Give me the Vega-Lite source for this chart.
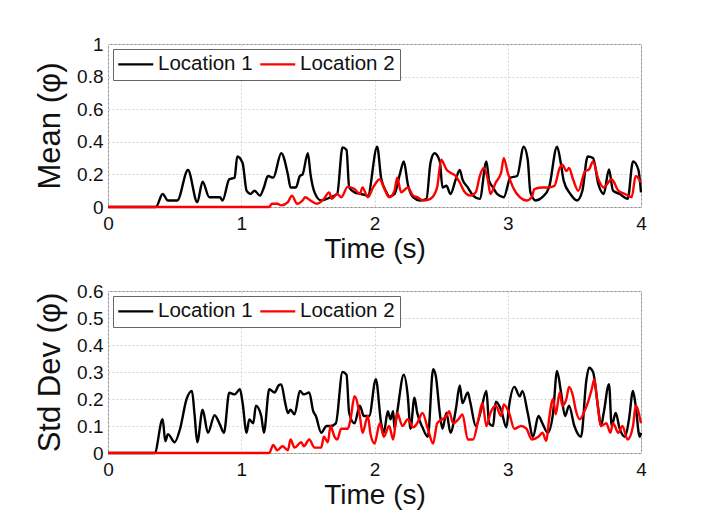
{
  "$schema": "https://vega.github.io/schema/vega-lite/v6.json",
  "background": "white",
  "padding": {"left": 34, "top": 34, "right": 5, "bottom": 5},
  "spacing": 17,
  "config": {
    "font": "Liberation Sans",
    "view": {"stroke": "#8c8c8c", "strokeWidth": 1},
    "axis": {
      "labelFont": "Liberation Sans", "labelFontSize": 19, "labelColor": "#111",
      "titleFont": "Liberation Sans", "titleFontSize": 28, "titleFontWeight": "normal", "titleColor": "#111",
      "grid": true, "gridColor": "#d4d4d4", "gridDash": [2, 2], "gridWidth": 1,
      "domain": false, "ticks": false, "labelPadding": 5,
      "labelOverlap": false, "labelFlush": false, "labelBound": false
    },
    "legend": {
      "orient": "top-left", "offset": 5, "direction": "horizontal", "title": null,
      "symbolType": "M-3,0H3", "symbolSize": 136, "symbolStrokeWidth": 2.4, "symbolOffset": 7.5,
      "labelFont": "Liberation Sans", "labelFontSize": 20.5, "labelColor": "#111", "labelOffset": 12,
      "columnPadding": 2, "padding": 5, "strokeColor": "#666", "fillColor": "white", "cornerRadius": 0
    }
  },
  "datasets": {
    "mean": [
      {"t":0,"v":0,"loc":"Location 1"},{"t":0.36,"v":0,"loc":"Location 1"},{"t":0.41,"v":0.08,"loc":"Location 1"},{"t":0.45,"v":0.04,"loc":"Location 1"},{"t":0.52,"v":0.04,"loc":"Location 1"},{"t":0.6,"v":0.227,"loc":"Location 1"},{"t":0.67,"v":0.03,"loc":"Location 1"},{"t":0.71,"v":0.155,"loc":"Location 1"},{"t":0.76,"v":0.06,"loc":"Location 1"},{"t":0.84,"v":0.06,"loc":"Location 1"},{"t":0.86,"v":0.04,"loc":"Location 1"},{"t":0.91,"v":0.17,"loc":"Location 1"},{"t":0.95,"v":0.18,"loc":"Location 1"},{"t":0.97,"v":0.31,"loc":"Location 1"},{"t":1.01,"v":0.27,"loc":"Location 1"},{"t":1.04,"v":0.1,"loc":"Location 1"},{"t":1.07,"v":0.08,"loc":"Location 1"},{"t":1.1,"v":0.1,"loc":"Location 1"},{"t":1.14,"v":0.07,"loc":"Location 1"},{"t":1.17,"v":0.12,"loc":"Location 1"},{"t":1.2,"v":0.19,"loc":"Location 1"},{"t":1.24,"v":0.18,"loc":"Location 1"},{"t":1.3,"v":0.33,"loc":"Location 1"},{"t":1.35,"v":0.2,"loc":"Location 1"},{"t":1.37,"v":0.12,"loc":"Location 1"},{"t":1.41,"v":0.12,"loc":"Location 1"},{"t":1.44,"v":0.19,"loc":"Location 1"},{"t":1.46,"v":0.2,"loc":"Location 1"},{"t":1.5,"v":0.33,"loc":"Location 1"},{"t":1.52,"v":0.2,"loc":"Location 1"},{"t":1.55,"v":0.09,"loc":"Location 1"},{"t":1.6,"v":0.04,"loc":"Location 1"},{"t":1.67,"v":0.06,"loc":"Location 1"},{"t":1.72,"v":0.08,"loc":"Location 1"},{"t":1.76,"v":0.366,"loc":"Location 1"},{"t":1.79,"v":0.35,"loc":"Location 1"},{"t":1.81,"v":0.12,"loc":"Location 1"},{"t":1.85,"v":0.09,"loc":"Location 1"},{"t":1.9,"v":0.08,"loc":"Location 1"},{"t":1.95,"v":0.07,"loc":"Location 1"},{"t":2.02,"v":0.37,"loc":"Location 1"},{"t":2.05,"v":0.176,"loc":"Location 1"},{"t":2.09,"v":0.09,"loc":"Location 1"},{"t":2.11,"v":0.063,"loc":"Location 1"},{"t":2.15,"v":0.08,"loc":"Location 1"},{"t":2.19,"v":0.2,"loc":"Location 1"},{"t":2.22,"v":0.28,"loc":"Location 1"},{"t":2.25,"v":0.14,"loc":"Location 1"},{"t":2.29,"v":0.06,"loc":"Location 1"},{"t":2.34,"v":0.04,"loc":"Location 1"},{"t":2.39,"v":0.05,"loc":"Location 1"},{"t":2.42,"v":0.27,"loc":"Location 1"},{"t":2.45,"v":0.33,"loc":"Location 1"},{"t":2.49,"v":0.28,"loc":"Location 1"},{"t":2.51,"v":0.12,"loc":"Location 1"},{"t":2.54,"v":0.13,"loc":"Location 1"},{"t":2.57,"v":0.08,"loc":"Location 1"},{"t":2.61,"v":0.17,"loc":"Location 1"},{"t":2.64,"v":0.227,"loc":"Location 1"},{"t":2.66,"v":0.17,"loc":"Location 1"},{"t":2.7,"v":0.12,"loc":"Location 1"},{"t":2.74,"v":0.07,"loc":"Location 1"},{"t":2.79,"v":0.05,"loc":"Location 1"},{"t":2.84,"v":0.28,"loc":"Location 1"},{"t":2.86,"v":0.16,"loc":"Location 1"},{"t":2.89,"v":0.12,"loc":"Location 1"},{"t":2.92,"v":0.08,"loc":"Location 1"},{"t":2.97,"v":0.06,"loc":"Location 1"},{"t":3.02,"v":0.18,"loc":"Location 1"},{"t":3.07,"v":0.19,"loc":"Location 1"},{"t":3.12,"v":0.37,"loc":"Location 1"},{"t":3.15,"v":0.29,"loc":"Location 1"},{"t":3.17,"v":0.09,"loc":"Location 1"},{"t":3.21,"v":0.04,"loc":"Location 1"},{"t":3.26,"v":0.06,"loc":"Location 1"},{"t":3.31,"v":0.12,"loc":"Location 1"},{"t":3.37,"v":0.37,"loc":"Location 1"},{"t":3.4,"v":0.26,"loc":"Location 1"},{"t":3.42,"v":0.16,"loc":"Location 1"},{"t":3.47,"v":0.08,"loc":"Location 1"},{"t":3.52,"v":0.04,"loc":"Location 1"},{"t":3.56,"v":0.1,"loc":"Location 1"},{"t":3.6,"v":0.31,"loc":"Location 1"},{"t":3.64,"v":0.3,"loc":"Location 1"},{"t":3.68,"v":0.14,"loc":"Location 1"},{"t":3.72,"v":0.08,"loc":"Location 1"},{"t":3.76,"v":0.23,"loc":"Location 1"},{"t":3.79,"v":0.1,"loc":"Location 1"},{"t":3.84,"v":0.08,"loc":"Location 1"},{"t":3.9,"v":0.05,"loc":"Location 1"},{"t":3.94,"v":0.28,"loc":"Location 1"},{"t":3.98,"v":0.23,"loc":"Location 1"},{"t":4.0,"v":0.09,"loc":"Location 1"},
      {"t":0,"v":0,"loc":"Location 2"},{"t":1.21,"v":0,"loc":"Location 2"},{"t":1.23,"v":0.02,"loc":"Location 2"},{"t":1.27,"v":0.02,"loc":"Location 2"},{"t":1.3,"v":0.01,"loc":"Location 2"},{"t":1.35,"v":0.03,"loc":"Location 2"},{"t":1.38,"v":0.07,"loc":"Location 2"},{"t":1.42,"v":0.02,"loc":"Location 2"},{"t":1.46,"v":0.04,"loc":"Location 2"},{"t":1.48,"v":0.06,"loc":"Location 2"},{"t":1.52,"v":0.04,"loc":"Location 2"},{"t":1.57,"v":0.02,"loc":"Location 2"},{"t":1.62,"v":0.05,"loc":"Location 2"},{"t":1.66,"v":0.09,"loc":"Location 2"},{"t":1.68,"v":0.05,"loc":"Location 2"},{"t":1.72,"v":0.08,"loc":"Location 2"},{"t":1.75,"v":0.06,"loc":"Location 2"},{"t":1.8,"v":0.125,"loc":"Location 2"},{"t":1.85,"v":0.11,"loc":"Location 2"},{"t":1.89,"v":0.08,"loc":"Location 2"},{"t":1.91,"v":0.12,"loc":"Location 2"},{"t":1.95,"v":0.06,"loc":"Location 2"},{"t":1.99,"v":0.12,"loc":"Location 2"},{"t":2.04,"v":0.17,"loc":"Location 2"},{"t":2.07,"v":0.12,"loc":"Location 2"},{"t":2.11,"v":0.06,"loc":"Location 2"},{"t":2.15,"v":0.1,"loc":"Location 2"},{"t":2.17,"v":0.18,"loc":"Location 2"},{"t":2.2,"v":0.09,"loc":"Location 2"},{"t":2.25,"v":0.12,"loc":"Location 2"},{"t":2.29,"v":0.07,"loc":"Location 2"},{"t":2.32,"v":0.06,"loc":"Location 2"},{"t":2.37,"v":0.04,"loc":"Location 2"},{"t":2.42,"v":0.05,"loc":"Location 2"},{"t":2.47,"v":0.12,"loc":"Location 2"},{"t":2.5,"v":0.29,"loc":"Location 2"},{"t":2.54,"v":0.23,"loc":"Location 2"},{"t":2.57,"v":0.21,"loc":"Location 2"},{"t":2.61,"v":0.19,"loc":"Location 2"},{"t":2.64,"v":0.15,"loc":"Location 2"},{"t":2.67,"v":0.1,"loc":"Location 2"},{"t":2.72,"v":0.07,"loc":"Location 2"},{"t":2.76,"v":0.09,"loc":"Location 2"},{"t":2.79,"v":0.19,"loc":"Location 2"},{"t":2.82,"v":0.24,"loc":"Location 2"},{"t":2.85,"v":0.17,"loc":"Location 2"},{"t":2.87,"v":0.08,"loc":"Location 2"},{"t":2.91,"v":0.15,"loc":"Location 2"},{"t":2.95,"v":0.21,"loc":"Location 2"},{"t":2.97,"v":0.3,"loc":"Location 2"},{"t":3.0,"v":0.21,"loc":"Location 2"},{"t":3.04,"v":0.12,"loc":"Location 2"},{"t":3.09,"v":0.06,"loc":"Location 2"},{"t":3.14,"v":0.04,"loc":"Location 2"},{"t":3.18,"v":0.06,"loc":"Location 2"},{"t":3.2,"v":0.11,"loc":"Location 2"},{"t":3.25,"v":0.12,"loc":"Location 2"},{"t":3.3,"v":0.12,"loc":"Location 2"},{"t":3.35,"v":0.13,"loc":"Location 2"},{"t":3.39,"v":0.24,"loc":"Location 2"},{"t":3.41,"v":0.26,"loc":"Location 2"},{"t":3.44,"v":0.22,"loc":"Location 2"},{"t":3.46,"v":0.24,"loc":"Location 2"},{"t":3.49,"v":0.17,"loc":"Location 2"},{"t":3.53,"v":0.1,"loc":"Location 2"},{"t":3.58,"v":0.22,"loc":"Location 2"},{"t":3.61,"v":0.23,"loc":"Location 2"},{"t":3.64,"v":0.28,"loc":"Location 2"},{"t":3.68,"v":0.17,"loc":"Location 2"},{"t":3.72,"v":0.12,"loc":"Location 2"},{"t":3.78,"v":0.17,"loc":"Location 2"},{"t":3.83,"v":0.1,"loc":"Location 2"},{"t":3.88,"v":0.08,"loc":"Location 2"},{"t":3.93,"v":0.06,"loc":"Location 2"},{"t":3.96,"v":0.19,"loc":"Location 2"},{"t":4.0,"v":0.15,"loc":"Location 2"}
    ],
    "std": [
      {"t":0,"v":0,"loc":"Location 1"},{"t":0.35,"v":0,"loc":"Location 1"},{"t":0.41,"v":0.125,"loc":"Location 1"},{"t":0.43,"v":0.044,"loc":"Location 1"},{"t":0.45,"v":0.07,"loc":"Location 1"},{"t":0.5,"v":0.04,"loc":"Location 1"},{"t":0.54,"v":0.088,"loc":"Location 1"},{"t":0.59,"v":0.2,"loc":"Location 1"},{"t":0.63,"v":0.23,"loc":"Location 1"},{"t":0.65,"v":0.14,"loc":"Location 1"},{"t":0.67,"v":0.04,"loc":"Location 1"},{"t":0.71,"v":0.16,"loc":"Location 1"},{"t":0.75,"v":0.075,"loc":"Location 1"},{"t":0.8,"v":0.14,"loc":"Location 1"},{"t":0.84,"v":0.105,"loc":"Location 1"},{"t":0.87,"v":0.075,"loc":"Location 1"},{"t":0.91,"v":0.223,"loc":"Location 1"},{"t":0.95,"v":0.217,"loc":"Location 1"},{"t":0.99,"v":0.236,"loc":"Location 1"},{"t":1.01,"v":0.186,"loc":"Location 1"},{"t":1.04,"v":0.075,"loc":"Location 1"},{"t":1.06,"v":0.124,"loc":"Location 1"},{"t":1.09,"v":0.11,"loc":"Location 1"},{"t":1.11,"v":0.175,"loc":"Location 1"},{"t":1.15,"v":0.137,"loc":"Location 1"},{"t":1.17,"v":0.075,"loc":"Location 1"},{"t":1.21,"v":0.236,"loc":"Location 1"},{"t":1.25,"v":0.224,"loc":"Location 1"},{"t":1.28,"v":0.25,"loc":"Location 1"},{"t":1.3,"v":0.254,"loc":"Location 1"},{"t":1.33,"v":0.185,"loc":"Location 1"},{"t":1.35,"v":0.148,"loc":"Location 1"},{"t":1.37,"v":0.16,"loc":"Location 1"},{"t":1.4,"v":0.143,"loc":"Location 1"},{"t":1.44,"v":0.23,"loc":"Location 1"},{"t":1.47,"v":0.217,"loc":"Location 1"},{"t":1.51,"v":0.224,"loc":"Location 1"},{"t":1.54,"v":0.155,"loc":"Location 1"},{"t":1.56,"v":0.137,"loc":"Location 1"},{"t":1.6,"v":0.075,"loc":"Location 1"},{"t":1.64,"v":0.1,"loc":"Location 1"},{"t":1.67,"v":0.1,"loc":"Location 1"},{"t":1.71,"v":0.11,"loc":"Location 1"},{"t":1.76,"v":0.3,"loc":"Location 1"},{"t":1.79,"v":0.29,"loc":"Location 1"},{"t":1.81,"v":0.148,"loc":"Location 1"},{"t":1.85,"v":0.11,"loc":"Location 1"},{"t":1.89,"v":0.175,"loc":"Location 1"},{"t":1.92,"v":0.137,"loc":"Location 1"},{"t":1.96,"v":0.137,"loc":"Location 1"},{"t":2.01,"v":0.273,"loc":"Location 1"},{"t":2.05,"v":0.11,"loc":"Location 1"},{"t":2.07,"v":0.075,"loc":"Location 1"},{"t":2.1,"v":0.155,"loc":"Location 1"},{"t":2.12,"v":0.125,"loc":"Location 1"},{"t":2.14,"v":0.155,"loc":"Location 1"},{"t":2.15,"v":0.09,"loc":"Location 1"},{"t":2.17,"v":0.15,"loc":"Location 1"},{"t":2.22,"v":0.29,"loc":"Location 1"},{"t":2.25,"v":0.21,"loc":"Location 1"},{"t":2.27,"v":0.09,"loc":"Location 1"},{"t":2.3,"v":0.205,"loc":"Location 1"},{"t":2.32,"v":0.15,"loc":"Location 1"},{"t":2.36,"v":0.095,"loc":"Location 1"},{"t":2.4,"v":0.06,"loc":"Location 1"},{"t":2.44,"v":0.31,"loc":"Location 1"},{"t":2.46,"v":0.285,"loc":"Location 1"},{"t":2.49,"v":0.148,"loc":"Location 1"},{"t":2.51,"v":0.09,"loc":"Location 1"},{"t":2.54,"v":0.148,"loc":"Location 1"},{"t":2.57,"v":0.075,"loc":"Location 1"},{"t":2.61,"v":0.16,"loc":"Location 1"},{"t":2.64,"v":0.25,"loc":"Location 1"},{"t":2.66,"v":0.185,"loc":"Location 1"},{"t":2.7,"v":0.224,"loc":"Location 1"},{"t":2.72,"v":0.185,"loc":"Location 1"},{"t":2.76,"v":0.1,"loc":"Location 1"},{"t":2.8,"v":0.16,"loc":"Location 1"},{"t":2.84,"v":0.23,"loc":"Location 1"},{"t":2.86,"v":0.11,"loc":"Location 1"},{"t":2.89,"v":0.1,"loc":"Location 1"},{"t":2.91,"v":0.19,"loc":"Location 1"},{"t":2.95,"v":0.16,"loc":"Location 1"},{"t":2.99,"v":0.095,"loc":"Location 1"},{"t":3.01,"v":0.175,"loc":"Location 1"},{"t":3.05,"v":0.245,"loc":"Location 1"},{"t":3.09,"v":0.21,"loc":"Location 1"},{"t":3.11,"v":0.23,"loc":"Location 1"},{"t":3.15,"v":0.148,"loc":"Location 1"},{"t":3.19,"v":0.06,"loc":"Location 1"},{"t":3.23,"v":0.137,"loc":"Location 1"},{"t":3.26,"v":0.11,"loc":"Location 1"},{"t":3.3,"v":0.075,"loc":"Location 1"},{"t":3.34,"v":0.148,"loc":"Location 1"},{"t":3.37,"v":0.304,"loc":"Location 1"},{"t":3.4,"v":0.224,"loc":"Location 1"},{"t":3.43,"v":0.137,"loc":"Location 1"},{"t":3.46,"v":0.175,"loc":"Location 1"},{"t":3.5,"v":0.1,"loc":"Location 1"},{"t":3.55,"v":0.06,"loc":"Location 1"},{"t":3.59,"v":0.27,"loc":"Location 1"},{"t":3.61,"v":0.316,"loc":"Location 1"},{"t":3.64,"v":0.3,"loc":"Location 1"},{"t":3.68,"v":0.16,"loc":"Location 1"},{"t":3.7,"v":0.1,"loc":"Location 1"},{"t":3.72,"v":0.148,"loc":"Location 1"},{"t":3.76,"v":0.255,"loc":"Location 1"},{"t":3.78,"v":0.1,"loc":"Location 1"},{"t":3.81,"v":0.148,"loc":"Location 1"},{"t":3.84,"v":0.09,"loc":"Location 1"},{"t":3.88,"v":0.06,"loc":"Location 1"},{"t":3.91,"v":0.125,"loc":"Location 1"},{"t":3.94,"v":0.23,"loc":"Location 1"},{"t":3.96,"v":0.175,"loc":"Location 1"},{"t":3.99,"v":0.06,"loc":"Location 1"},{"t":4.0,"v":0.075,"loc":"Location 1"},
      {"t":0,"v":0,"loc":"Location 2"},{"t":1.21,"v":0,"loc":"Location 2"},{"t":1.24,"v":0.03,"loc":"Location 2"},{"t":1.27,"v":0.01,"loc":"Location 2"},{"t":1.31,"v":0.025,"loc":"Location 2"},{"t":1.35,"v":0.01,"loc":"Location 2"},{"t":1.37,"v":0.05,"loc":"Location 2"},{"t":1.4,"v":0.02,"loc":"Location 2"},{"t":1.45,"v":0.04,"loc":"Location 2"},{"t":1.47,"v":0.025,"loc":"Location 2"},{"t":1.51,"v":0.05,"loc":"Location 2"},{"t":1.55,"v":0.02,"loc":"Location 2"},{"t":1.6,"v":0.02,"loc":"Location 2"},{"t":1.62,"v":0.06,"loc":"Location 2"},{"t":1.65,"v":0.04,"loc":"Location 2"},{"t":1.67,"v":0.1,"loc":"Location 2"},{"t":1.7,"v":0.06,"loc":"Location 2"},{"t":1.72,"v":0.05,"loc":"Location 2"},{"t":1.75,"v":0.09,"loc":"Location 2"},{"t":1.8,"v":0.09,"loc":"Location 2"},{"t":1.82,"v":0.125,"loc":"Location 2"},{"t":1.85,"v":0.21,"loc":"Location 2"},{"t":1.89,"v":0.137,"loc":"Location 2"},{"t":1.91,"v":0.075,"loc":"Location 2"},{"t":1.95,"v":0.137,"loc":"Location 2"},{"t":1.97,"v":0.07,"loc":"Location 2"},{"t":2.0,"v":0.035,"loc":"Location 2"},{"t":2.04,"v":0.11,"loc":"Location 2"},{"t":2.07,"v":0.06,"loc":"Location 2"},{"t":2.11,"v":0.1,"loc":"Location 2"},{"t":2.14,"v":0.05,"loc":"Location 2"},{"t":2.17,"v":0.148,"loc":"Location 2"},{"t":2.21,"v":0.1,"loc":"Location 2"},{"t":2.25,"v":0.125,"loc":"Location 2"},{"t":2.29,"v":0.095,"loc":"Location 2"},{"t":2.32,"v":0.11,"loc":"Location 2"},{"t":2.36,"v":0.148,"loc":"Location 2"},{"t":2.4,"v":0.09,"loc":"Location 2"},{"t":2.44,"v":0.035,"loc":"Location 2"},{"t":2.47,"v":0.11,"loc":"Location 2"},{"t":2.51,"v":0.125,"loc":"Location 2"},{"t":2.54,"v":0.137,"loc":"Location 2"},{"t":2.56,"v":0.155,"loc":"Location 2"},{"t":2.59,"v":0.11,"loc":"Location 2"},{"t":2.63,"v":0.125,"loc":"Location 2"},{"t":2.66,"v":0.143,"loc":"Location 2"},{"t":2.7,"v":0.05,"loc":"Location 2"},{"t":2.74,"v":0.05,"loc":"Location 2"},{"t":2.78,"v":0.125,"loc":"Location 2"},{"t":2.81,"v":0.185,"loc":"Location 2"},{"t":2.84,"v":0.1,"loc":"Location 2"},{"t":2.87,"v":0.148,"loc":"Location 2"},{"t":2.91,"v":0.175,"loc":"Location 2"},{"t":2.95,"v":0.137,"loc":"Location 2"},{"t":2.97,"v":0.18,"loc":"Location 2"},{"t":3.01,"v":0.148,"loc":"Location 2"},{"t":3.05,"v":0.09,"loc":"Location 2"},{"t":3.1,"v":0.1,"loc":"Location 2"},{"t":3.14,"v":0.09,"loc":"Location 2"},{"t":3.18,"v":0.05,"loc":"Location 2"},{"t":3.23,"v":0.06,"loc":"Location 2"},{"t":3.26,"v":0.075,"loc":"Location 2"},{"t":3.29,"v":0.045,"loc":"Location 2"},{"t":3.31,"v":0.125,"loc":"Location 2"},{"t":3.34,"v":0.2,"loc":"Location 2"},{"t":3.36,"v":0.143,"loc":"Location 2"},{"t":3.39,"v":0.224,"loc":"Location 2"},{"t":3.41,"v":0.175,"loc":"Location 2"},{"t":3.44,"v":0.2,"loc":"Location 2"},{"t":3.46,"v":0.245,"loc":"Location 2"},{"t":3.49,"v":0.21,"loc":"Location 2"},{"t":3.51,"v":0.16,"loc":"Location 2"},{"t":3.54,"v":0.125,"loc":"Location 2"},{"t":3.58,"v":0.16,"loc":"Location 2"},{"t":3.6,"v":0.185,"loc":"Location 2"},{"t":3.63,"v":0.236,"loc":"Location 2"},{"t":3.65,"v":0.273,"loc":"Location 2"},{"t":3.67,"v":0.2,"loc":"Location 2"},{"t":3.7,"v":0.1,"loc":"Location 2"},{"t":3.74,"v":0.11,"loc":"Location 2"},{"t":3.77,"v":0.075,"loc":"Location 2"},{"t":3.79,"v":0.11,"loc":"Location 2"},{"t":3.83,"v":0.075,"loc":"Location 2"},{"t":3.86,"v":0.1,"loc":"Location 2"},{"t":3.9,"v":0.05,"loc":"Location 2"},{"t":3.94,"v":0.1,"loc":"Location 2"},{"t":3.96,"v":0.175,"loc":"Location 2"},{"t":4.0,"v":0.11,"loc":"Location 2"}
    ]
  },
  "vconcat": [
    {
      "width": 533, "height": 163,
      "data": {"name": "mean"},
      "mark": {"type": "line", "strokeWidth": 2.4, "interpolate": "monotone"},
      "encoding": {
        "x": {"field": "t", "type": "quantitative", "scale": {"domain": [0, 4], "nice": false},
              "axis": {"title": "Time (s)", "values": [0, 1, 2, 3, 4], "format": "d", "labelPadding": 7, "titlePadding": 2}},
        "y": {"field": "v", "type": "quantitative", "scale": {"domain": [0, 1], "nice": false},
              "axis": {"title": "Mean (φ)", "titleFontSize": 31, "values": [0, 0.2, 0.4, 0.6, 0.8, 1], "format": "~g", "titlePadding": 10}},
        "color": {"field": "loc", "type": "nominal", "scale": {"domain": ["Location 1", "Location 2"], "range": ["#000000", "#ff0000"]}},
        "order": {"field": "t", "type": "quantitative"}
      }
    },
    {
      "width": 533, "height": 162,
      "data": {"name": "std"},
      "mark": {"type": "line", "strokeWidth": 2.4, "interpolate": "monotone"},
      "encoding": {
        "x": {"field": "t", "type": "quantitative", "scale": {"domain": [0, 4], "nice": false},
              "axis": {"title": "Time (s)", "values": [0, 1, 2, 3, 4], "format": "d", "labelPadding": 7, "titlePadding": 2}},
        "y": {"field": "v", "type": "quantitative", "scale": {"domain": [0, 0.6], "nice": false},
              "axis": {"title": "Std Dev (φ)", "titleFontSize": 31, "values": [0, 0.1, 0.2, 0.3, 0.4, 0.5, 0.6], "format": "~g", "titlePadding": 10}},
        "color": {"field": "loc", "type": "nominal", "scale": {"domain": ["Location 1", "Location 2"], "range": ["#000000", "#ff0000"]}},
        "order": {"field": "t", "type": "quantitative"}
      }
    }
  ],
  "resolve": {"scale": {"color": "independent"}, "legend": {"color": "independent"}}
}
